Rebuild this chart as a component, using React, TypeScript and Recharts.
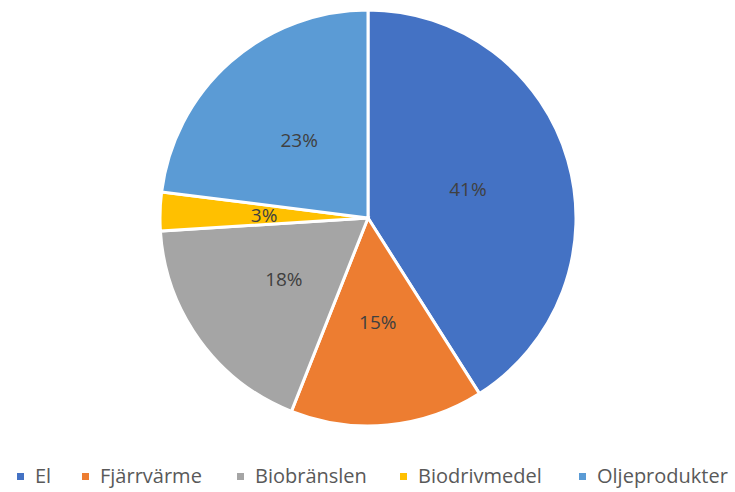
import { Legend, Pie, PieChart, Cell } from "recharts";

const categories = ["El", "Fjärrvärme", "Biobränslen", "Biodrivmedel", "Oljeprodukter"];
const shares = [41, 15, 18, 3, 23];
const colors = ["#4472C4", "#ED7D31", "#A5A5A5", "#FFC000", "#5B9BD5"];

const data = categories.map((name, i) => ({ name, value: shares[i] }));

// left edge of each legend label, px
const legendTextX = [35, 100, 255, 418, 597];

const RAD = Math.PI / 180;

function renderLabel(props: any) {
  const { cx, cy, midAngle, outerRadius, value } = props;
  const r = outerRadius * 0.5;
  const x = cx + r * Math.cos(-midAngle * RAD);
  const y = cy + r * Math.sin(-midAngle * RAD);
  return (
    <text
      x={x}
      y={y}
      fill="#404040"
      fontSize={19}
      fontFamily="'Open Sans', sans-serif"
      textAnchor="middle"
      dominantBaseline="central"
    >
      {value}%
    </text>
  );
}

function LegendContent() {
  return (
    <div style={{ position: "relative", width: 735, height: 24 }}>
      {categories.map((name, i) => (
        <div
          key={name}
          style={{
            position: "absolute",
            left: legendTextX[i] - 18,
            top: 0,
            height: 24,
            display: "flex",
            alignItems: "center",
            whiteSpace: "nowrap",
          }}
        >
          <span
            style={{
              display: "inline-block",
              width: 7,
              height: 7,
              background: colors[i],
              marginRight: 11,
            }}
          />
          <span
            style={{
              fontFamily: "'Open Sans', sans-serif",
              fontSize: 20,
              lineHeight: "24px",
              color: "#595959",
            }}
          >
            {name}
          </span>
        </div>
      ))}
    </div>
  );
}

export default function App() {
  return (
    <div style={{ position: "absolute", left: 0, top: 0, width: 735, height: 492, background: "#fff" }}>
      <PieChart width={735} height={492} margin={{ top: 0, right: 0, bottom: 0, left: 0 }}>
        <Pie
          data={data}
          dataKey="value"
          nameKey="name"
          cx={368}
          cy={218}
          outerRadius={208}
          startAngle={90}
          endAngle={-270}
          stroke="#fff"
          strokeWidth={3}
          label={renderLabel}
          labelLine={false}
          isAnimationActive={false}
        >
          {data.map((d, i) => (
            <Cell key={d.name} fill={colors[i]} />
          ))}
        </Pie>
        <Legend
          content={<LegendContent />}
          wrapperStyle={{ left: 0, top: 464, width: 735, height: 24 }}
        />
      </PieChart>
    </div>
  );
}
